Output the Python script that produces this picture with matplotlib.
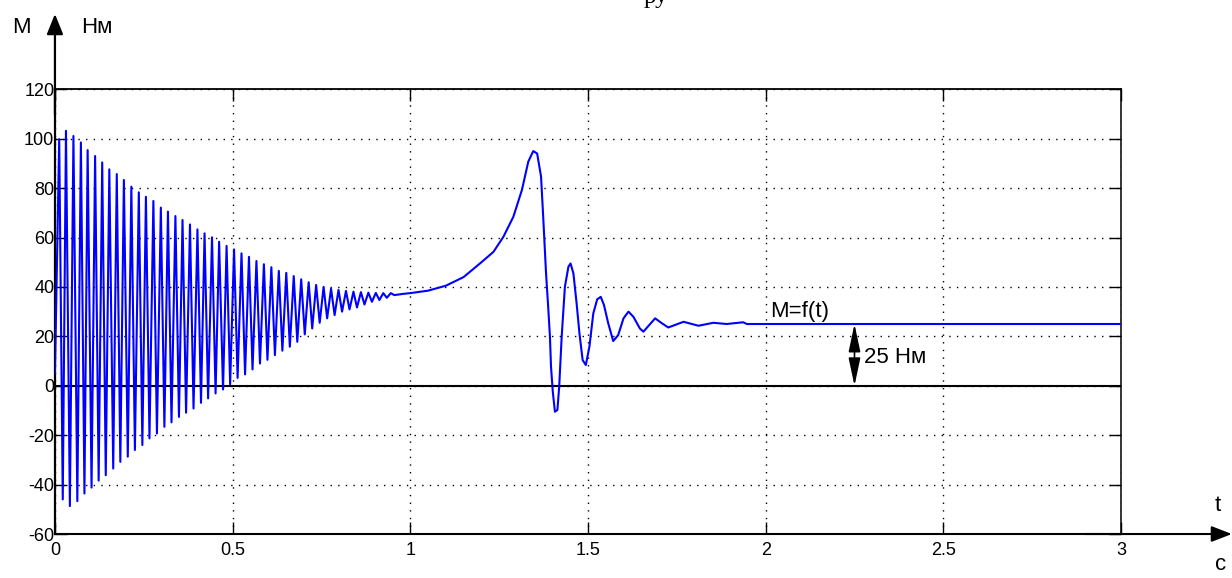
"""Torque M=f(t) transient, MATLAB-style plot."""
import numpy as np
import matplotlib
matplotlib.use("Agg")
import matplotlib.pyplot as plt

# === Data ===
# upper peaks of the decaying oscillation
peak_t = [0.012, 0.031, 0.052, 0.073, 0.092, 0.113, 0.133, 0.153, 0.174, 0.194,
          0.215, 0.236, 0.256, 0.277, 0.298, 0.318, 0.339, 0.359, 0.380, 0.401,
          0.421, 0.442, 0.462, 0.483, 0.504, 0.525, 0.546, 0.567, 0.588, 0.609,
          0.630, 0.651, 0.672, 0.693, 0.714, 0.735, 0.756, 0.777, 0.798, 0.819,
          0.840, 0.861, 0.882, 0.903, 0.924, 0.945]
peak_v = [99.8, 103.2, 101.1, 98.5, 95.4, 93.0, 90.4, 87.6, 85.7, 83.3,
          80.6, 78.3, 76.5, 74.8, 72.1, 70.5, 68.7, 67.1, 65.3, 63.3,
          61.7, 60.1, 58.3, 56.6, 55.2, 53.6, 52.2, 50.5, 49.2, 48.0,
          46.5, 45.7, 44.4, 43.1, 41.9, 40.8, 40.0, 39.3, 38.8, 38.4,
          38.1, 37.9, 37.7, 37.6, 37.5, 37.5]
# lower troughs of the decaying oscillation
trough_t = [0.022, 0.042, 0.063, 0.083, 0.103, 0.123, 0.143, 0.164, 0.184, 0.205,
            0.225, 0.246, 0.266, 0.287, 0.308, 0.328, 0.349, 0.369, 0.390, 0.411,
            0.431, 0.452, 0.473, 0.493, 0.514, 0.535, 0.556, 0.577, 0.598, 0.619,
            0.640, 0.661, 0.682, 0.703, 0.724, 0.745, 0.766, 0.787, 0.808, 0.829,
            0.850, 0.871, 0.892, 0.913, 0.934, 0.955]
trough_v = [-46.0, -48.7, -46.7, -43.6, -41.2, -38.4, -36.2, -33.5, -30.8, -28.7,
            -26.0, -24.0, -21.3, -19.3, -16.6, -14.8, -12.6, -10.9, -9.2, -6.9,
            -5.1, -3.1, -1.5, 0.6, 3.2, 4.6, 6.6, 9.0, 10.5, 12.4,
            14.2, 15.8, 17.8, 20.8, 23.2, 25.5, 27.3, 28.6, 30.0, 30.9,
            31.7, 32.9, 34.0, 34.7, 35.6, 36.7]
# start point and the transient after the oscillation has died out
start_t = [0.0]
start_v = [5.0]
tail_t = [0.98, 1.0, 1.05, 1.1, 1.15, 1.196, 1.234, 1.262, 1.29, 1.314,
          1.332, 1.346, 1.357, 1.368, 1.374, 1.382, 1.388, 1.393, 1.396, 1.401,
          1.407, 1.414, 1.419, 1.426, 1.435, 1.445, 1.451, 1.459, 1.468, 1.476,
          1.485, 1.494, 1.504, 1.515, 1.526, 1.536, 1.545, 1.557, 1.571, 1.585,
          1.6, 1.614, 1.628, 1.646, 1.656, 1.689, 1.708, 1.726, 1.769, 1.811,
          1.853, 1.89, 1.937, 1.947, 2.04, 3.0]
tail_v = [37.2, 37.5, 38.5, 40.5, 44.0, 49.5, 54.2, 60.3, 68.4, 79.2,
          90.7, 95.0, 94.0, 84.6, 68.4, 45.5, 32.0, 19.8, 7.7, -2.4,
          -10.5, -9.8, -0.4, 19.8, 40.0, 48.2, 49.5, 45.5, 33.4, 21.2,
          10.4, 8.4, 15.8, 29.3, 35.0, 36.0, 32.7, 25.3, 18.1, 20.5,
          27.3, 30.0, 27.9, 23.2, 21.9, 27.3, 25.3, 23.6, 25.9, 24.3,
          25.5, 25.0, 25.7, 25.0, 25.0, 25.0]

x_ticks = [0, 0.5, 1, 1.5, 2, 2.5, 3]
x_labels = ["0", "0.5", "1", "1.5", "2", "2.5", "3"]
y_ticks = [-60, -40, -20, 0, 20, 40, 60, 80, 100, 120]
steady_value = 25


def main():
    plt.rcParams["font.family"] = ["Liberation Sans", "DejaVu Sans"]
    plt.rcParams["axes.unicode_minus"] = False

    osc_t = np.array(peak_t + trough_t)
    osc_v = np.array(peak_v + trough_v)
    order = np.argsort(osc_t)
    t = np.concatenate([start_t, osc_t[order], tail_t])
    m = np.concatenate([start_v, osc_v[order], tail_v])

    fig = plt.figure(figsize=(12.32, 5.78), dpi=100)
    ax = fig.add_axes([0.0446, 0.0761, 0.8653, 0.7694])

    ax.plot(t, m, color="#0000ff", lw=1.5, zorder=3)
    ax.axhline(0, color="black", lw=1.5, zorder=2)

    ax.set_xlim(0, 3)
    ax.set_ylim(-60, 120)
    ax.set_xticks(x_ticks)
    ax.set_xticklabels(x_labels)
    ax.set_yticks(y_ticks)
    ax.grid(True, color="black", lw=1.0, linestyle=(0, (1, 4.5)))
    ax.tick_params(direction="in", length=8.5, width=1, top=True, right=True,
                   labelsize=13, colors="black")
    ax.tick_params(axis="x", pad=6)
    ax.tick_params(axis="y", pad=0.5)
    for side, w in [("left", 1.6), ("bottom", 1.5), ("top", 1.3), ("right", 1.1)]:
        ax.spines[side].set_linewidth(w)

    # axis arrows
    ax.annotate("", xy=(0, 150.5), xytext=(0, 110), xycoords="data",
                annotation_clip=False,
                arrowprops=dict(arrowstyle="-|>,head_length=0.62,head_width=0.25",
                                mutation_scale=20, color="black", lw=1.6,
                                shrinkA=0, shrinkB=0))
    ax.annotate("", xy=(3.312, -60), xytext=(2.9, -60), xycoords="data",
                annotation_clip=False,
                arrowprops=dict(arrowstyle="-|>,head_length=0.62,head_width=0.24",
                                mutation_scale=20, color="black", lw=1.5,
                                shrinkA=0, shrinkB=0))
    ax.text(-0.094, 145.2, "M", fontsize=16, ha="center", va="center")
    ax.text(0.118, 145.2, "Нм", fontsize=16, ha="center", va="center")
    ax.text(3.273, -48.3, "t", fontsize=16, ha="center", va="center", clip_on=False)
    ax.text(3.279, -72.5, "c", fontsize=16, ha="center", va="center", clip_on=False)

    # steady-state annotation
    ax.text(2.012, 28, "M=f(t)", fontsize=16, ha="left", va="baseline")
    ax.annotate("", xy=(2.25, steady_value), xytext=(2.25, 0),
                arrowprops=dict(arrowstyle="<|-|>,head_length=0.85,head_width=0.18",
                                mutation_scale=20, color="black", lw=1.2,
                                shrinkA=0, shrinkB=0))
    ax.text(2.277, 11.6, f"{steady_value} Нм", fontsize=16, ha="left", va="center")

    # caption cut off at the top edge of the picture, as in the reference
    fig.text(0.532, 1 - 3 / 578, "ру", fontsize=18, family="Liberation Serif",
             ha="center", va="baseline")

    plt.savefig("out.png", dpi=100)
    plt.close()


if __name__ == "__main__":
    main()
